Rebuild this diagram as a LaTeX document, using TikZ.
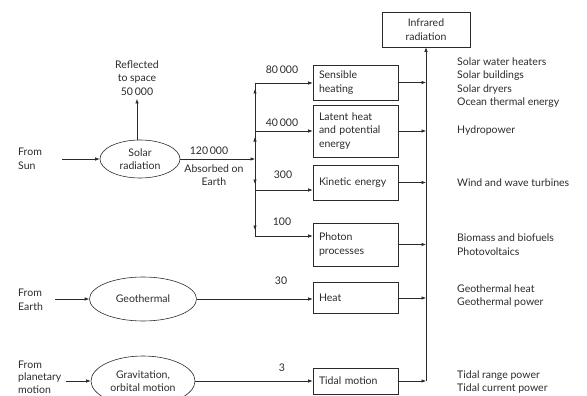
\documentclass[tikz,border=0pt]{standalone}
\usepackage{fontspec}
\setmainfont{Lato}
\usetikzlibrary{arrows.meta,shapes.geometric}

\begin{document}
\begin{tikzpicture}[
    x=1pt, y=-1pt,
    font=\fontsize{10.5}{13.5}\selectfont,
    every node/.style={align=center, text=inkcolor},
    flow/.style={-{Latex[length=4.5pt,width=3.5pt]}, line width=0.6pt, draw=linecolor},
    plainline/.style={line width=0.6pt, draw=linecolor},
    sourcenode/.style={draw=linecolor, line width=0.6pt, ellipse, inner sep=1pt},
    procbox/.style={draw=linecolor, line width=0.6pt, rectangle,
        text width=73pt, inner xsep=6pt, inner ysep=2pt, align=left},
    usetext/.style={anchor=west, align=left, inner sep=0pt},
    fromtext/.style={anchor=west, align=left, inner sep=0pt},
]

% Colors
\definecolor{linecolor}{HTML}{2b2b2b}
\definecolor{inkcolor}{HTML}{2b2b2b}

\useasboundingbox (0,0) rectangle (587,396);

% X positions
\def\xjn{255}
\def\xbox{355.5}
\def\xrt{426}
\def\xuse{457}

% Y positions of the rows
\def\ysens{82.5}
\def\ylat{131}
\def\ykin{182.5}
\def\yphot{244.5}
\def\yheat{298}
\def\ytide{381}

% Sources
\node[fromtext] (fromsun) at (18,159) {From\\Sun};
\node[fromtext] (fromearth) at (18,300) {From\\Earth};
\node[fromtext, font=\fontsize{10.5}{12.5}\selectfont] (fromplanet) at (18,377) {From\\planetary\\motion};

\node[sourcenode, minimum width=80pt, minimum height=38pt] (solar) at (140,159) {Solar\\radiation};
\node[sourcenode, minimum width=107pt, minimum height=44pt] (geo) at (143,299) {Geothermal};
\node[sourcenode, minimum width=104pt, minimum height=50pt] (grav) at (143,381) {Gravitation,\\orbital motion};

\coordinate (sunin) at (62,159);
\coordinate (earthin) at (55,299);
\coordinate (planetin) at (66,381);

\draw[flow] (sunin) -- (solar.west);
\draw[flow] (earthin) -- (geo.west);
\draw[flow] (planetin) -- (grav.west);

% Reflected part
\node (refl) at (137,78) {Reflected\\to space\\50\,000};
\draw[flow] (solar.north -| refl.south) -- (refl.south);

% Absorbed part
\coordinate (jn) at (\xjn,159);
\draw[flow] (solar.east) -- (jn);
\node (absnum) at (209,151) {120\,000};
\node (abstxt) at (214,175) {Absorbed on\\Earth};

% Conversion boxes
\node[procbox, minimum height=35pt] (sens) at (\xbox,\ysens) {Sensible\\heating};
\node[procbox, minimum height=52pt] (lat) at (\xbox,\ylat) {Latent heat\\and potential\\energy};
\node[procbox, minimum height=35pt] (kin) at (\xbox,\ykin) {Kinetic energy};
\node[procbox, minimum height=43pt] (phot) at (\xbox,\yphot) {Photon\\processes};
\node[procbox, minimum height=31pt] (heat) at (\xbox,\yheat) {Heat};
\node[procbox, minimum height=26pt] (tide) at (\xbox,\ytide) {Tidal motion};

% Branches from the junction
\coordinate (c80) at (\xjn,83);
\coordinate (c40) at (\xjn,131);
\coordinate (c300) at (\xjn,190);
\coordinate (c100) at (\xjn,236);

\draw[plainline] (c80) -- (c100);
\foreach \c in {c80, c40, c300, c100} {
    \draw[flow, shorten >=6pt] (jn) -- (\c);
}
\draw[flow] (c80) -- (sens.west |- c80);
\draw[flow] (c40) -- (lat.west |- c40);
\draw[flow] (c300) -- (kin.west |- c300);
\draw[flow] (c100) -- (phot.west |- c100);
\draw[flow] (geo.east) -- (heat.west |- geo.east);
\draw[flow] (grav.east) -- (tide.west |- grav.east);

% Flow values
\node (n80) at (282,70) {80\,000};
\node (n40) at (282,123) {40\,000};
\node (n300) at (283,175) {300};
\node (n100) at (282,222) {100};
\node (n30) at (281,281) {30};
\node (n3) at (282,368) {3};

% Collector to infrared radiation
\node[draw=linecolor, line width=0.6pt, minimum width=88pt, minimum height=35pt,
    inner sep=2pt] (ir) at (\xrt,29.5) {Infrared\\radiation};
\coordinate (rt) at (\xrt,\ytide);
\draw[flow] (tide.east) -- (rt);
\draw[flow] (rt) -- (ir.south);
\foreach \b in {sens, lat, kin, phot, heat} {
    \draw[flow] (\b.east) -- (\b.east -| rt);
}

% Uses
\node[usetext] (usesens) at (\xuse,\ysens) {Solar water heaters\\Solar buildings\\Solar dryers\\Ocean thermal energy};
\node[usetext] (uselat) at (\xuse,\ylat) {Hydropower};
\node[usetext] (usekin) at (\xuse,\ykin) {Wind and wave turbines};
\node[usetext] (usephot) at (\xuse,\yphot) {Biomass and biofuels\\Photovoltaics};
\node[usetext] (useheat) at (\xuse,296) {Geothermal heat\\Geothermal power};
\node[usetext] (usetide) at (\xuse,382) {Tidal range power\\Tidal current power};

\end{tikzpicture}
\end{document}
